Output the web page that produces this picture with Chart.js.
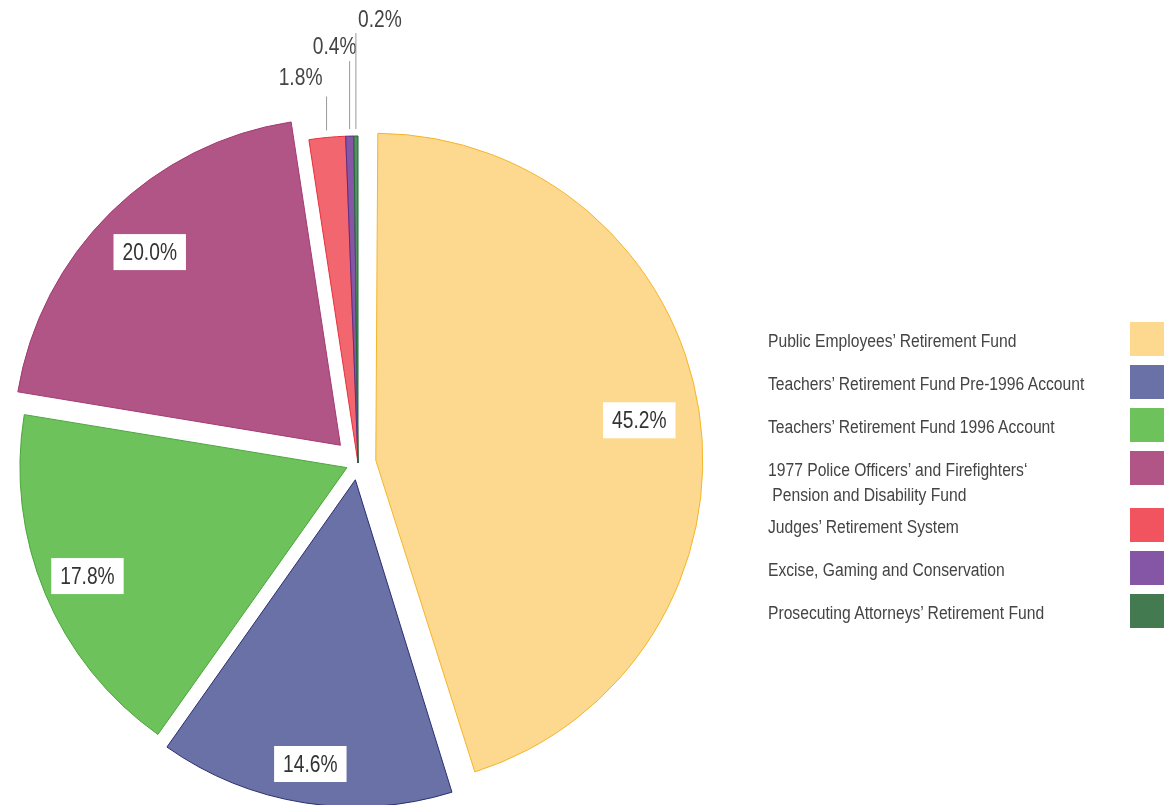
<!DOCTYPE html>
<html>
<head>
<meta charset="utf-8">
<script src="https://cdn.jsdelivr.net/npm/chart.js@4.4.1/dist/chart.umd.min.js"></script>
<style>
  html, body { margin: 0; padding: 0; background: #fff; }
  #wrap { position: relative; width: 1164px; height: 805px; overflow: hidden; }
  #chart { position: absolute; left: 0; top: 0; }
  #legend { position: absolute; left: 768px; top: 322px; width: 400px;
            font-family: "Liberation Sans", Arial, sans-serif;
            font-size: 18px; color: #444; }
  .row { position: absolute; left: 0; }
  .row .txt { position: absolute; left: 0; white-space: pre; line-height: 25px;
              transform: scaleX(0.87); transform-origin: 0 50%; }
  .row .sw { position: absolute; left: 362px; top: 0; width: 36px; height: 34px; }
</style>
</head>
<body>
<div id="wrap">
  <canvas id="chart" width="1164" height="805"></canvas>
  <div id="legend"></div>
</div>
<script>
var labels = [
  'Public Employees’ Retirement Fund',
  'Teachers’ Retirement Fund Pre-1996 Account',
  'Teachers’ Retirement Fund 1996 Account',
  '1977 Police Officers’ and Firefighters‘\n Pension and Disability Fund',
  'Judges’ Retirement System',
  'Excise, Gaming and Conservation',
  'Prosecuting Attorneys’ Retirement Fund'
];
var shares = [45.2, 14.6, 17.8, 20.0, 1.8, 0.4, 0.2];

var fills   = ['#fcd98f', '#6a71a6', '#6dc25c', '#b05585', '#f2666f', '#8656a6', '#5a8c66'];
var borders = ['#f5b52a', '#2a2f70', '#4aa53a', '#a23a72', '#e8303a', '#5b2d84', '#1f6b35'];
var swatches = ['#fcd98f', '#6a71a6', '#6dc25c', '#b05585', '#f2545f', '#8656a6', '#437a50'];

// how far each slice is pulled out (chart.js divides offset by 4)
var pull = [72, 68, 48, 100, 0, 0, 0];
// where the inside labels sit, as a share of the radius
var labelAt = [0.815, 0.88, 0.86, 0.83];
// leader lines for the thin slices: line length and text shift
var callouts = { 4: { len: 34, dx: -26, dy: -18 }, 5: { len: 68, dx: -15, dy: -14 }, 6: { len: 96, dx: 24, dy: -13 } };

var FONT = '"Liberation Sans", Arial, sans-serif';
var NARROW = 0.8;

function narrowText(ctx, text, x, y) {
  ctx.save();
  ctx.translate(x, y);
  ctx.scale(NARROW, 1);
  ctx.fillText(text, 0, 0);
  ctx.restore();
}

// chart.js grows the radius of a pulled-out arc by this much
function radiusGrowth(arc) {
  var off = (arc.options.offset || 0) / 4;
  return off * (1 - Math.sin(Math.min(Math.PI, arc.circumference)));
}

var sliceLabels = {
  id: 'sliceLabels',
  afterDatasetUpdate: function (chart, args) {
    // keep every pulled-out slice at the same radius
    args.meta.data.forEach(function (arc) {
      arc.outerRadius -= radiusGrowth(arc);
    });
  },
  afterDatasetsDraw: function (chart) {
    var ctx = chart.ctx;
    var meta = chart.getDatasetMeta(0);
    ctx.save();
    ctx.font = '24px ' + FONT;
    ctx.textAlign = 'center';
    ctx.textBaseline = 'middle';
    meta.data.forEach(function (arc, i) {
      var mid = (arc.startAngle + arc.endAngle) / 2;
      var shift = (arc.options.offset || 0) / 4;
      var cx = arc.x + Math.cos(mid) * shift;
      var cy = arc.y + Math.sin(mid) * shift;
      var R = arc.outerRadius + radiusGrowth(arc);
      var text = shares[i].toFixed(1) + '%';
      if (callouts[i]) {
        var c = callouts[i];
        var x0 = cx + Math.cos(mid) * (R + 7);
        var y0 = cy + Math.sin(mid) * (R + 7);
        ctx.strokeStyle = '#999';
        ctx.lineWidth = 1;
        ctx.beginPath();
        ctx.moveTo(x0, y0);
        ctx.lineTo(x0, y0 - c.len);
        ctx.stroke();
        ctx.fillStyle = '#444';
        narrowText(ctx, text, x0 + c.dx, y0 - c.len + c.dy);
      } else {
        var r = R * labelAt[i];
        var x = cx + Math.cos(mid) * r;
        var y = cy + Math.sin(mid) * r;
        var w = ctx.measureText(text).width * NARROW + 18;
        ctx.fillStyle = '#fff';
        ctx.fillRect(x - w / 2, y - 18, w, 36);
        ctx.fillStyle = '#333';
        narrowText(ctx, text, x, y + 1);
      }
    });
    ctx.restore();
  }
};

new Chart(document.getElementById('chart'), {
  type: 'pie',
  data: {
    labels: labels,
    datasets: [{
      data: shares,
      backgroundColor: fills,
      borderColor: borders,
      borderWidth: 1,
      offset: pull,
      radius: 327,
      clip: false
    }]
  },
  options: {
    responsive: false,
    animation: false,
    events: [],
    layout: { padding: { left: 0, right: 448, top: 121, bottom: 0 } },
    plugins: { legend: { display: false }, tooltip: { enabled: false } }
  },
  plugins: [sliceLabels]
});

// legend: text on the left, colour square on the far right
var legend = document.getElementById('legend');
var rowTop = 0;
labels.forEach(function (name, i) {
  var lines = name.split('\n').length;
  var row = document.createElement('div');
  row.className = 'row';
  row.style.top = rowTop + 'px';
  var txt = document.createElement('div');
  txt.className = 'txt';
  txt.style.top = '7px';
  txt.textContent = name;
  var sw = document.createElement('div');
  sw.className = 'sw';
  sw.style.background = swatches[i];
  row.appendChild(txt);
  row.appendChild(sw);
  legend.appendChild(row);
  rowTop += 43 + (lines - 1) * 14;
});
</script>
</body>
</html>
